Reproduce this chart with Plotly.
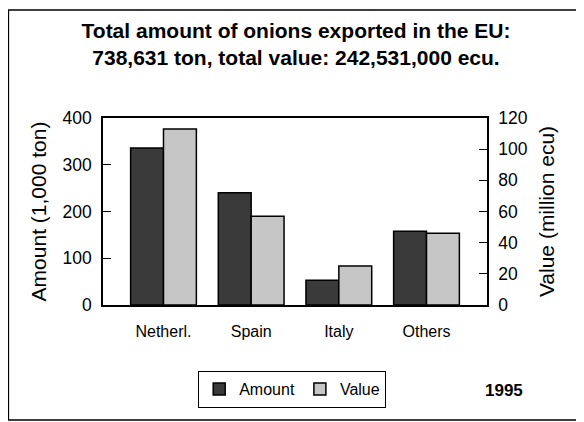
import plotly.graph_objects as go

categories = ["Netherl.", "Spain", "Italy", "Others"]
amount = [336, 240, 53, 158]        # 1,000 ton
value = [113, 57, 25, 46]           # million ecu
left_ticks = [0, 100, 200, 300, 400]
right_ticks = [0, 20, 40, 60, 80, 100, 120]

FONT = "Liberation Sans, Arial, Helvetica, sans-serif"

fig = go.Figure()
fig.add_trace(go.Bar(
    x=categories, y=amount, name="Amount", yaxis="y",
    offsetgroup="a",
    marker=dict(color="#3a3a3a", line=dict(color="black", width=1.5)),
))
fig.add_trace(go.Bar(
    x=categories, y=value, name="Value", yaxis="y2",
    offsetgroup="b",
    marker=dict(color="#c6c6c6", line=dict(color="black", width=1.5)),
))

# page is offset by the 8px body margin
OFF = 8
W, H = 584 - OFF, 422 - OFF
L, R, T, B = 103 - OFF, 487 - OFF, 118 - OFF, 305 - OFF
pw, ph = R - L, B - T

def px(x):
    return (x - OFF - L) / pw

def py(y):
    return (B - (y - OFF)) / ph

fig.update_layout(
    width=W, height=H,
    margin=dict(l=L, r=W - R, t=T, b=H - B),
    paper_bgcolor="white", plot_bgcolor="white",
    font=dict(family=FONT, color="black", size=15),
    barmode="group", bargap=0.25, bargroupgap=0,
    showlegend=True,
    legend=dict(
        orientation="h", x=px(198), y=py(371), xanchor="left", yanchor="top",
        bordercolor="black", borderwidth=1.2, font=dict(size=16),
        itemwidth=30, traceorder="normal",
    ),
    xaxis=dict(
        type="category", range=[-0.69, 3.69],
        showline=True, linecolor="black", linewidth=1.5, mirror=True,
        ticks="", tickfont=dict(size=16), ticklabelstandoff=11,
        showgrid=False,
    ),
    yaxis=dict(
        range=[0, 400], tickvals=left_ticks, ticks="inside", ticklen=8,
        tickcolor="black", tickwidth=1.2,
        showline=True, linecolor="black", linewidth=1.5,
        showgrid=False, zeroline=False, tickfont=dict(size=17.5),
        ticklabelstandoff=6,
        title=dict(text="Amount (1,000 ton)", font=dict(size=21), standoff=10),
    ),
    yaxis2=dict(
        range=[0, 120], tickvals=right_ticks, ticks="inside", ticklen=8,
        tickcolor="black", tickwidth=1.2,
        overlaying="y", side="right",
        showline=True, linecolor="black", linewidth=1.5,
        showgrid=False, zeroline=False, tickfont=dict(size=17.5),
        ticklabelstandoff=6,
        title=dict(text="Value (million ecu)", font=dict(size=21), standoff=13),
    ),
    title=dict(
        text="Total amount of onions exported in the EU:<br>738,631 ton, total value: 242,531,000 ecu.",
        x=0.5, xanchor="center", y=1 - (37.5 - OFF) / H, yanchor="middle",
        font=dict(size=21, family=FONT, weight="bold"),
    ),
    shapes=[dict(
        type="rect", xref="paper", yref="paper",
        x0=px(8.5), x1=px(600), y0=py(420), y1=py(10),
        line=dict(color="black", width=1.3), layer="above",
    )],
    annotations=[dict(
        text="<b>1995</b>", xref="paper", yref="paper",
        x=px(504), y=py(390), xanchor="center", yanchor="middle",
        showarrow=False, font=dict(size=17),
    )],
)

fig.write_html("out.html")
